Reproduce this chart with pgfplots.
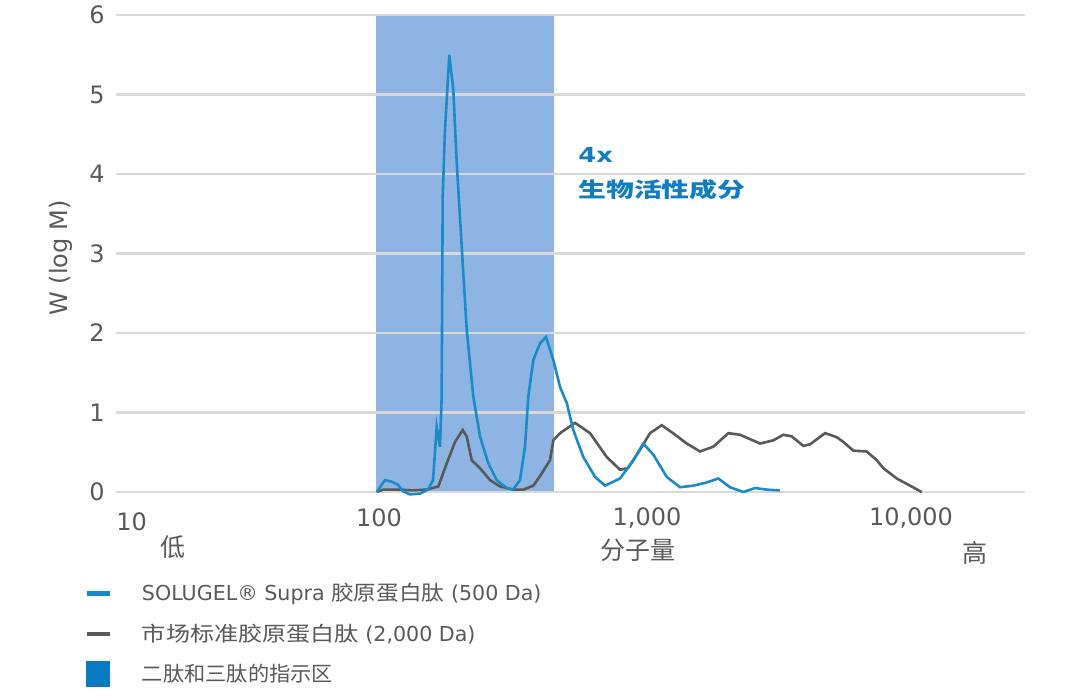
\documentclass[border=0pt]{standalone}
\usepackage{fontspec}
\setmainfont{DejaVu Sans}
\newfontfamily\cjk{Noto Sans CJK SC}
\usepackage{graphicx}
\usepackage{pgfplots}
\pgfplotsset{compat=1.18}
\definecolor{txt}{HTML}{595959}
\definecolor{gridc}{HTML}{D9D9D9}
\definecolor{bandc}{HTML}{8EB4E3}
\definecolor{blueline}{HTML}{1B8BC7}
\definecolor{grayline}{HTML}{595959}
\definecolor{legsq}{HTML}{0B7BC1}
\definecolor{accent}{HTML}{0F7DC2}
\newcommand{\C}[2][1.3]{\scalebox{#1}[1]{\cjk #2}}

\pgfplotstableread{
x y
100.6 0
108.3 0.15
114.9 0.13
121.5 0.09
127.0 0.01
135.1 -0.03
147.6 -0.02
158.5 0.03
165.7 0.15
171.2 0.82
176.2 0.57
178.9 1.2
180.5 3.71
184.2 4.55
191.4 5.5
198.3 5.06
204.4 4.14
213.6 3.09
223.3 2.04
236.7 1.2
251.2 0.70
270.4 0.36
291.2 0.15
318.2 0.05
336.5 0.03
357.9 0.15
374.2 0.57
385.3 1.2
402.7 1.66
427.3 1.87
450.6 1.95
480.8 1.66
510.3 1.32
541.5 1.12
573.9 0.78
627.1 0.44
695.6 0.19
760.1 0.08
868.0 0.17
976.3 0.40
1066.9 0.61
1165.6 0.47
1312.6 0.19
1476.5 0.06
1661.4 0.08
1870.7 0.12
2072.8 0.17
2298.6 0.06
2586.5 0.0
2869.0 0.05
3182.0 0.03
3579.4 0.02
}\bluedata

\pgfplotstableread{
x y
100.6 0
106.7 0.03
120.1 0.03
138.8 0.02
156.7 0.03
173.6 0.07
187.1 0.36
201.3 0.63
215.5 0.78
223.3 0.70
233.4 0.40
251.2 0.30
274.5 0.15
299.9 0.07
337.4 0.03
368.6 0.03
402.7 0.08
427.3 0.20
466.9 0.40
480.8 0.65
510.3 0.74
582.8 0.87
665.5 0.74
771.5 0.44
868.0 0.28
931.6 0.30
1036 0.53
1132 0.74
1255.7 0.84
1388 0.74
1566.7 0.61
1762.9 0.51
1983.2 0.57
2264.6 0.74
2511.9 0.72
2999.9 0.61
3373 0.65
3685 0.72
3971 0.70
4400 0.58
4669 0.60
5333 0.74
5915 0.69
6271 0.63
6852 0.52
7714 0.51
8430 0.40
8938 0.30
10063 0.17
11320 0.08
12556 0.0
}\graydata

\begin{document}
\begin{tikzpicture}
\path[use as bounding box] (0,0) rectangle (540pt,349pt);
\begin{axis}[
  at={(58pt,103pt)}, anchor=south west,
  scale only axis, width=454.5pt, height=238.5pt,
  xmode=log, xmin=10, xmax=31340, ymin=0, ymax=6,
  axis line style={draw=none},
  xtick=\empty,
  ytick={0,1,2,3,4,5,6},
  major tick length=0pt,
  yticklabel style={font=\fontsize{12}{14}\selectfont, text=txt, anchor=east, inner sep=0pt, xshift=-5.5pt},
  /pgf/number format/assume math mode=true,
  clip=false,
  unbounded coords=jump,
  legend style={at={(-0.035,-0.182)}, anchor=north west, draw=none, fill=none,
    font=\fontsize{10.3}{12}\selectfont, text=txt, inner sep=0pt,
    row sep=6pt, column sep=13pt},
  legend cell align=left,
]
\addplot[fill=bandc, draw=none, forget plot] coordinates {(100,0) (100,6) (484,6) (484,0)};
\addplot[gridc, line width=1.1pt, forget plot] coordinates {
(10,0) (31340,0)
(nan,nan)
(10,1) (31340,1)
(nan,nan)
(10,2) (31340,2)
(nan,nan)
(10,3) (31340,3)
(nan,nan)
(10,4) (31340,4)
(nan,nan)
(10,5) (31340,5)
(nan,nan)
(10,6) (31340,6)
};
\addplot[grayline, line width=1.3pt, forget plot] table[x=x,y=y] {\graydata};
\addplot[blueline, line width=1.3pt, forget plot] table[x=x,y=y] {\bluedata};
\addlegendimage{legend image code/.code={\draw[blueline, line width=2.2pt] (0pt,0pt) -- (11.5pt,0pt);}}
\addlegendentry{SOLUGEL® Supra \C[1.1]{胶原蛋白肽} (500 Da)}
\addlegendimage{legend image code/.code={\draw[grayline, line width=2.2pt] (0pt,0pt) -- (11.5pt,0pt);}}
\addlegendentry{\C[1.17]{市场标准胶原蛋白肽} (2,000 Da)}
\addlegendimage{legend image code/.code={\fill[legsq] (0pt,-6.25pt) rectangle (11.5pt,6.25pt);}}
\addlegendentry{\C[1.03]{二肽和三肽的指示区}}
\end{axis}
\begin{scope}[every node/.style={inner sep=0pt, text=txt, font=\fontsize{12}{14}\selectfont}]
\node[anchor=west] at (58pt,88pt) {10};
\node at (189.5pt,90pt) {100};
\node at (323.5pt,90pt) {1,000};
\node at (455.5pt,90pt) {10,000};
\node at (86.5pt,75.5pt) {\cjk\fontsize{12.5}{14}\selectfont 低};
\node at (319pt,74pt) {\cjk\fontsize{12.5}{14}\selectfont 分子量};
\node at (487.5pt,72.5pt) {\cjk\fontsize{12.5}{14}\selectfont 高};
\node[rotate=90] at (30.5pt,220pt) {W (log M)};
\end{scope}
\node[anchor=west, inner sep=0pt, text=accent, font=\bfseries\fontsize{10.3}{12}\selectfont] at (289pt,271.5pt) {\scalebox{1.25}[1]{4x}};
\node[anchor=west, inner sep=0pt, text=accent] at (289pt,254pt) {\scalebox{1.35}[1]{\cjk\bfseries\fontsize{10.3}{12}\selectfont 生物活性成分}};
\end{tikzpicture}
\end{document}
